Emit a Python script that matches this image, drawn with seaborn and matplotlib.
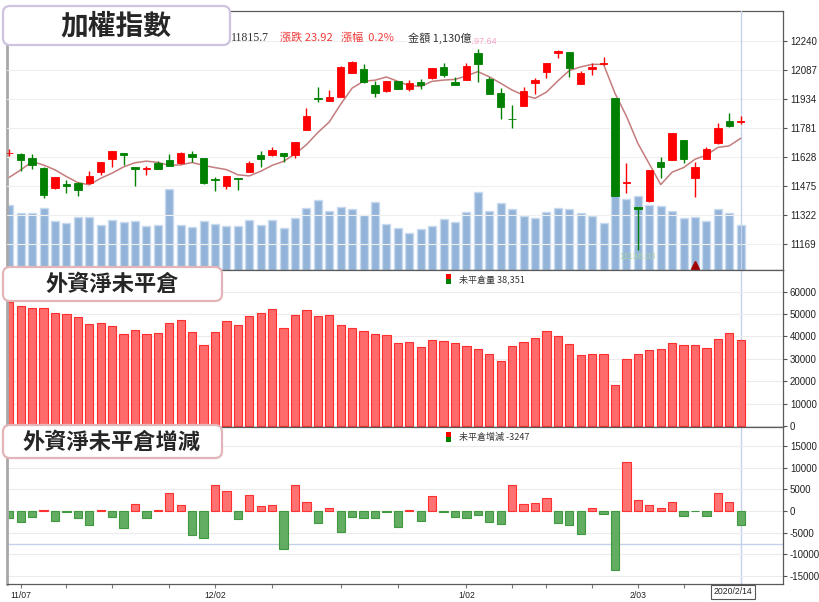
import numpy as np
import pandas as pd
import seaborn as sns
import matplotlib.pyplot as plt
from matplotlib.patches import FancyBboxPatch, Rectangle
import matplotlib.transforms as mtransforms

# trading days shown (2019/11/06 .. 2020/02/14)
dates = ['2019/11/06', '2019/11/07', '2019/11/08', '2019/11/11', '2019/11/12', '2019/11/13',
         '2019/11/14', '2019/11/15', '2019/11/18', '2019/11/19', '2019/11/20', '2019/11/21',
         '2019/11/22', '2019/11/25', '2019/11/26', '2019/11/27', '2019/11/28', '2019/11/29',
         '2019/12/02', '2019/12/03', '2019/12/04', '2019/12/05', '2019/12/06', '2019/12/09',
         '2019/12/10', '2019/12/11', '2019/12/12', '2019/12/13', '2019/12/16', '2019/12/17',
         '2019/12/18', '2019/12/19', '2019/12/20', '2019/12/23', '2019/12/24', '2019/12/25',
         '2019/12/26', '2019/12/27', '2019/12/30', '2019/12/31', '2020/01/02', '2020/01/03',
         '2020/01/06', '2020/01/07', '2020/01/08', '2020/01/09', '2020/01/10', '2020/01/13',
         '2020/01/14', '2020/01/15', '2020/01/16', '2020/01/17', '2020/01/20', '2020/01/30',
         '2020/01/31', '2020/02/03', '2020/02/04', '2020/02/05', '2020/02/06', '2020/02/07',
         '2020/02/10', '2020/02/11', '2020/02/12', '2020/02/13', '2020/02/14']

opens = [11645, 11642, 11621, 11570, 11461, 11484, 11491, 11488, 11549, 11614,
         11646, 11574, 11565, 11593, 11611, 11593, 11642, 11620, 11510, 11473,
         11514, 11549, 11637, 11637, 11646, 11637, 11769, 11938, 11922, 11945,
         12071, 12089, 12005, 11976, 12026, 11984, 12024, 12042, 12100, 12024,
         12033, 12174, 12040, 11966, 11828, 11896, 12018, 12076, 12174, 12179,
         12012, 12089, 12118, 11936, 11491, 11361, 11396, 11602, 11611, 11716,
         11514, 11616, 11699, 11816, 11812]
highs = [11668, 11646, 11642, 11575, 11523, 11505, 11496, 11554, 11600, 11660,
         11646, 11575, 11579, 11605, 11642, 11652, 11656, 11620, 11522, 11528,
         11514, 11605, 11660, 11678, 11646, 11706, 11883, 11994, 11980, 12105,
         12135, 12117, 12029, 12030, 12030, 12033, 12036, 12098, 12121, 12050,
         12121, 12197.64, 12047, 11989, 11901, 11994, 12042, 12125, 12192, 12180,
         12080, 12121, 12152, 11940, 11593, 11362, 11560, 11625, 11753, 11718,
         11598, 11678, 11804, 11857, 11843]
lows = [11630, 11554, 11562, 11408, 11456, 11435, 11422, 11482, 11531, 11575,
        11584, 11473, 11531, 11562, 11580, 11590, 11602, 11482, 11449, 11459,
        11452, 11549, 11575, 11632, 11602, 11620, 11769, 11918, 11920, 11943,
        12068, 12018, 11941, 11972, 11985, 11976, 11984, 12040, 12050, 12005,
        12033, 12024, 11959, 11825, 11778, 11893, 11959, 12042, 12147, 12050,
        12010, 12059, 12112, 11420, 11435, 11138.03, 11391, 11514, 11609, 11593,
        11417, 11614, 11697, 11787, 11800]
closes = [11650, 11611, 11584, 11427, 11521, 11473, 11452, 11526, 11598, 11658,
          11637, 11562, 11568, 11565, 11580, 11649, 11625, 11491, 11507, 11528,
          11511, 11596, 11614, 11663, 11633, 11704, 11843, 11935, 11941, 12103,
          12129, 12024, 11962, 12026, 11987, 12015, 12005, 12096, 12059, 12005,
          12108, 12117, 11959, 11889, 11825, 11975, 12033, 12121, 12187, 12098,
          12071, 12100, 12121, 11422, 11495, 11354, 11558, 11575, 11751, 11614,
          11575, 11667, 11778, 11791.78, 11815.7]
# closes of the four sessions before the first bar (for the 5-day average)
prev_closes = [11416, 11364, 11517, 11648]

# turnover, 億
volume = [1614, 1422, 1422, 1554, 1215, 1172, 1322, 1322, 1115, 1247,
          1197, 1230, 1090, 1130, 2028, 1115, 1080, 1230, 1147, 1097,
          1097, 1247, 1130, 1247, 1055, 1304, 1554, 1738, 1464, 1571,
          1514, 1379, 1703, 1147, 1055, 923, 1023, 1097, 1264, 1197,
          1439, 1938, 1464, 1671, 1514, 1339, 1289, 1439, 1546, 1529,
          1422, 1339, 1172, 1895, 1763, 1853, 1629, 1589, 1464, 1297,
          1314, 1230, 1514, 1414, 1130]

# foreign net open interest (口)
open_interest = [55200, 53420, 52530, 52530, 50300, 50000, 48660, 45540, 45830, 44790,
                 41070, 42710, 41070, 41370, 45830, 47320, 41820, 36010, 41820, 46880,
                 45240, 48960, 50300, 52080, 43600, 49550, 51640, 48960, 49550, 45090,
                 43900, 42410, 41070, 40630, 37050, 37350, 35120, 38390, 37950, 37050,
                 35710, 34520, 32140, 29170, 35710, 37350, 39430, 42410, 40180, 36610,
                 31550, 32290, 31990, 18300, 29760, 32290, 33930, 34520, 37050, 36010,
                 36010, 34970, 38990, 41600, 38351]
oi_change = [-1690, -2610, -1310, 150, -2230, -300, -1690, -3230, 300, -1310,
             -3840, 1690, -1690, 150, 4150, 1310, -5530, -6140, 5910, 4610,
             -1920, 3610, 1150, 1460, -8760, 5910, 2000, -2690, 690, -4920,
             -1310, -1540, -1690, -300, -3760, 300, -2230, 3460, -300, -1310,
             -1690, -920, -2610, -3070, 5990, 1610, 1840, 2920, -2760, -3230,
             -5300, 770, -610, -13590, 11370, 2460, 1380, 610, 2150, -1150,
             -100, -1150, 4070, 2150, -3247]

price_ticks = [11169, 11322, 11475, 11628, 11781, 11934, 12087, 12240]
oi_ticks = [0, 10000, 20000, 30000, 40000, 50000, 60000]
chg_ticks = [-15000, -10000, -5000, 0, 5000, 10000, 15000]
label_dates = ['11/07', '12/02', '1/02', '2/03']
signal_days = ['2020/02/10']

sns.set_style("white")
plt.rcParams['font.family'] = ['Noto Sans CJK TC', 'DejaVu Sans']
plt.rcParams['axes.unicode_minus'] = False

W, H = 820, 602
fig = plt.figure(figsize=(W / 100, H / 100), dpi=100)


def frame(x0, y0, x1, y1):
    return [x0 / W, 1 - y1 / H, (x1 - x0) / W, (y1 - y0) / H]


ax_vol = fig.add_axes(frame(7, 11, 783, 270))
ax_px = ax_vol.twinx()
ax_oi = fig.add_axes(frame(7, 270, 783, 427))
ax_chg = fig.add_axes(frame(7, 427, 783, 584))

dt = pd.to_datetime(dates)
idx = np.arange(len(dates))
short = [f"{d.month}/{d.day:02d}" for d in dt]
last = len(dates) - 1
XLIM = (-0.2, 67.7)
cross = '#c3d2ea'

# ---- volume (bottom layer of the index panel)
sns.barplot(x=idx, y=volume, native_scale=True, orient='x', color='#93b4d8', saturation=1,
            width=0.7, edgecolor='#c8daee', linewidth=1, errorbar=None, ax=ax_vol)
ax_vol.set_ylim(0, 6460)
ax_vol.set_yticks([])

# ---- candles
o, h, l, c = map(np.asarray, (opens, highs, lows, closes))
col = np.where(c >= o, '#ff0000', '#008000')
ma5 = pd.Series(prev_closes + closes).rolling(5).mean().to_numpy()[len(prev_closes):]
ax_px.axvline(last, color=cross, lw=1, zorder=1)
ax_px.plot(idx, ma5, color='#c47c7c', lw=1.1, zorder=2)
ax_px.vlines(idx, l, h, colors=col, lw=1, zorder=3)
ax_px.bar(idx, np.maximum(np.abs(c - o), 1.5), bottom=np.minimum(o, c), width=0.66,
          color=col, edgecolor=col, linewidth=0.6, zorder=4)
ax_px.set_ylim(11030, 12397)
ax_px.set_yticks(price_ticks)
ax_px.grid(axis='y', color='#efefef', lw=0.8)

hi = int(np.argmax(h))
lo = int(np.argmin(l))
ax_px.annotate(f"{h[hi]:.2f}", xy=(hi, h[hi]), xytext=(0, 2), textcoords='offset points',
               ha='center', va='bottom', fontsize=6.5, color='#f5a3c7', family='Liberation Sans')
ax_px.annotate(f"{l[lo]:.2f}", xy=(lo, l[lo]), xytext=(0, -2), textcoords='offset points',
               ha='center', va='top', fontsize=6.5, color='#a9d3a9', family='Liberation Sans')
blend = mtransforms.blended_transform_factory(ax_px.transData, ax_px.transAxes)
for s in signal_days:
    ax_px.plot(dates.index(s), 0.018, marker='^', ms=6, color='#a30000', transform=blend,
               clip_on=False, zorder=6)

# ---- open interest
sns.barplot(x=idx, y=open_interest, native_scale=True, orient='x', color='#ff6b6b',
            saturation=1, width=0.72, edgecolor='#ff2e2e', linewidth=0.8, errorbar=None, ax=ax_oi)
ax_oi.set_ylim(-446, 69643)
ax_oi.set_yticks(oi_ticks)
ax_oi.grid(axis='y', color='#ececec', lw=0.8)
ax_oi.axvline(last, color=cross, lw=1, zorder=0.5)

# ---- change of open interest
chg_df = pd.DataFrame({'idx': idx, 'chg': oi_change,
                       'dir': np.where(np.asarray(oi_change) >= 0, 'up', 'down')})
sns.barplot(data=chg_df, x='idx', y='chg', hue='dir', palette={'up': '#ff7272', 'down': '#63ad63'},
            dodge=False, native_scale=True, orient='x', width=0.72, saturation=1,
            errorbar=None, legend=False, linewidth=0.8, ax=ax_chg)
for p in ax_chg.patches:
    p.set_edgecolor('#ff3030' if p.get_height() >= 0 else '#3f9a3f')
ax_chg.set_ylim(-16820, 19355)
ax_chg.set_yticks(chg_ticks)
ax_chg.grid(axis='y', color='#ececec', lw=0.8)
ax_chg.axvline(last, color=cross, lw=1, zorder=0.5)
ax_chg.axhline(-7670, color=cross, lw=1, zorder=0.5)

tick_idx = [1, 5, 9, 14, 18, 23, 29, 34, 40, 44, 47, 51, 55, 59]
ax_chg.set_xticks(tick_idx)
ax_chg.set_xticklabels([short[i] if short[i] in label_dates else '' for i in tick_idx])
ax_chg.tick_params(axis='x', bottom=True, length=3, width=0.8, color='#777777', pad=2,
                   labelsize=6.2, labelcolor='#222222')

# ---- common axis styling
for a in (ax_vol, ax_px, ax_oi, ax_chg):
    a.set_xlim(*XLIM)
    a.set_xlabel('')
    a.set_ylabel('')
for a in (ax_vol, ax_oi):
    a.set_xticks([])
for a in (ax_px, ax_oi, ax_chg):
    a.yaxis.tick_right()
    a.tick_params(axis='y', right=True, left=False, length=3, width=0.8, color='#555555',
                  pad=2, labelsize=7, labelcolor='#222222')
    for t in a.get_yticklabels() + a.get_xticklabels():
        t.set_family('Liberation Sans')
for s in ax_px.spines.values():
    s.set_visible(False)
for a in (ax_vol, ax_oi, ax_chg):
    for s in a.spines.values():
        s.set_color('#5a5a5a')
        s.set_linewidth(0.9)
    a.spines['left'].set_color('#a8a8a8')
    a.spines['left'].set_linewidth(2)

# ---- title boxes and header texts
def rbox(x0, y0, x1, y1, ec):
    fig.add_artist(FancyBboxPatch((x0 / 100, (H - y1) / 100), (x1 - x0) / 100, (y1 - y0) / 100,
                                  boxstyle='round,pad=0,rounding_size=0.07',
                                  transform=fig.dpi_scale_trans, fc='white', ec=ec, lw=1.6,
                                  zorder=10))


def ftext(px, py, s, **kw):
    kw.setdefault('zorder', 11)
    fig.text(px / W, 1 - py / H, s, **kw)


rbox(3, 6, 230, 45, '#cfc3e0')
ftext(116, 26, '加權指數', fontsize=20, fontweight='bold', ha='center', va='center')
rbox(3, 267, 222, 301, '#e3b5b8')
ftext(112, 284, '外資淨未平倉', fontsize=16, fontweight='bold', ha='center', va='center')
rbox(3, 425, 222, 458, '#e3b5b8')
ftext(112, 442, '外資淨未平倉增減', fontsize=16, fontweight='bold', ha='center', va='center')

chg_pts = closes[-1] - closes[-2]
ftext(231, 38, f"{closes[-1]:.1f}", fontsize=8.5, color='#333333', va='center',
      family='Liberation Serif')
ftext(280, 38, f"漲跌 {chg_pts:.2f}", fontsize=8, color='#f03a3a', va='center')
ftext(341, 38, f"漲幅  {chg_pts / closes[-2] * 100:.1f}%", fontsize=8, color='#f03a3a', va='center')
# the amount label sits on top of the high-price marker, hiding its first digits
ftext(408, 38, f"金額 {volume[-1]:,}億", fontsize=8, color='#333333', va='center',
      bbox=dict(boxstyle='square,pad=0.05', fc='white', ec='none'))

for py, s in ((279, f"未平倉量 {open_interest[-1]:,}"), (437, f"未平倉增減 {oi_change[-1]}")):
    fig.add_artist(Rectangle((446 / 100, (H - py) / 100), 5 / 100, 5 / 100,
                             transform=fig.dpi_scale_trans, fc='#ff0000', ec='none', zorder=11))
    fig.add_artist(Rectangle((446 / 100, (H - py - 5) / 100), 5 / 100, 5 / 100,
                             transform=fig.dpi_scale_trans, fc='#008000', ec='none', zorder=11))
    ftext(459, py, s, fontsize=6.5, color='#333333', va='center')

ftext(733, 592, f"{dt[-1].year}/{dt[-1].month}/{dt[-1].day}", fontsize=6.2, ha='center',
      va='center', color='#222222', family='Liberation Sans',
      bbox=dict(boxstyle='square,pad=0.3', fc='white', ec='#555555', lw=0.8))

fig.savefig('out.png', dpi=100)
